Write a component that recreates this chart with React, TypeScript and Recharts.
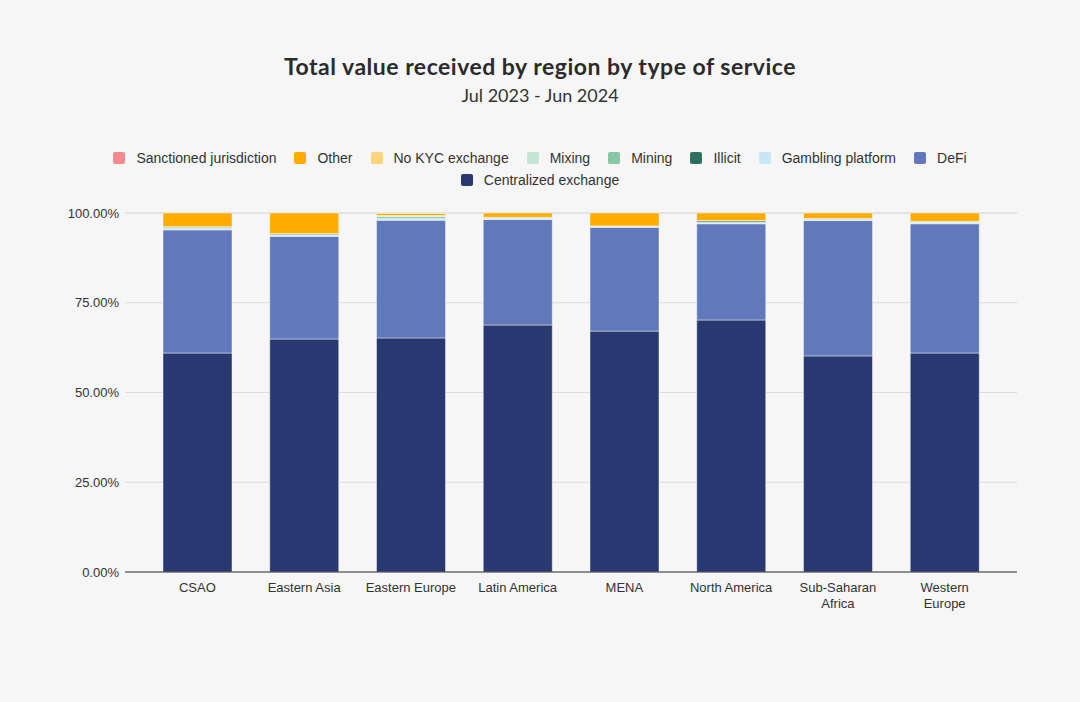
import React from "react";
import { BarChart, Bar, XAxis, YAxis, CartesianGrid } from "recharts";

const categories = ["CSAO", "Eastern Asia", "Eastern Europe", "Latin America", "MENA", "North America", "Sub-Saharan Africa", "Western Europe"];
const tickLabels = [["CSAO"], ["Eastern Asia"], ["Eastern Europe"], ["Latin America"], ["MENA"], ["North America"], ["Sub-Saharan", "Africa"], ["Western", "Europe"]];

const centralizedExchange = [61.0, 64.9, 65.2, 68.8, 67.1, 70.2, 60.2, 61.0];
const defi = [34.3, 28.6, 32.8, 29.4, 28.9, 26.8, 37.7, 36.0];
const gamblingPlatform = [0.6, 0.4, 0.5, 0.4, 0.3, 0.4, 0.5, 0.4];
const illicit = [0, 0, 0, 0, 0, 0.4, 0, 0];
const mining = [0.3, 0.4, 0.5, 0.2, 0.1, 0.1, 0.1, 0.3];
const mixing = [0, 0, 0.3, 0, 0, 0, 0, 0];
const noKycExchange = [0, 0, 0, 0, 0, 0, 0, 0];
const other = [3.8, 5.7, 0.6, 1.2, 3.6, 2.1, 1.5, 2.3];
const sanctionedJurisdiction = [0, 0, 0.1, 0, 0, 0, 0, 0];

const yTicks = [0, 25, 50, 75, 100];

const series = [
  { key: "cex", name: "Centralized exchange", color: "#283870", values: centralizedExchange },
  { key: "defi", name: "DeFi", color: "#6178ba", values: defi },
  { key: "gambling", name: "Gambling platform", color: "#c9e6f7", values: gamblingPlatform },
  { key: "illicit", name: "Illicit", color: "#2f7160", values: illicit },
  { key: "mining", name: "Mining", color: "#86c7a5", values: mining },
  { key: "mixing", name: "Mixing", color: "#c4e4d4", values: mixing },
  { key: "nokyc", name: "No KYC exchange", color: "#ffd37a", values: noKycExchange },
  { key: "other", name: "Other", color: "#ffab00", values: other },
  { key: "sanctioned", name: "Sanctioned jurisdiction", color: "#f28b8f", values: sanctionedJurisdiction },
];

const data = categories.map((c, i) => {
  const row: any = { region: c, idx: i };
  series.forEach((s) => (row[s.key] = s.values[i]));
  return row;
});

const legendOrder = [...series].reverse();

const LegendBlock = () => (
  <div
    style={{
      position: "absolute",
      top: 150,
      left: 100,
      display: "flex",
      flexWrap: "wrap",
      justifyContent: "center",
      width: 880,
      rowGap: 6,
      fontFamily: "'Liberation Sans', Arial, sans-serif",
      fontSize: 14,
      color: "#333",
    }}
  >
    {legendOrder.map((s) => (
      <div key={s.key} style={{ display: "flex", alignItems: "center", margin: "0 9px", height: 16 }}>
        <div style={{ width: 12, height: 12, background: s.color, borderRadius: 2, marginRight: 11 }} />
        <span>{s.name}</span>
      </div>
    ))}
  </div>
);

const XTick = (props: any) => {
  const { x, y, payload } = props;
  const lines = tickLabels[payload.index] || [payload.value];
  return (
    <g transform={`translate(${x},${y})`}>
      <text textAnchor="middle" fill="#333" fontSize={13} fontFamily="'Liberation Sans', Arial, sans-serif">
        {lines.map((l: string, i: number) => (
          <tspan key={i} x={0} dy={i === 0 ? 12 : 16}>
            {l}
          </tspan>
        ))}
      </text>
    </g>
  );
};

export default function App() {
  return (
    <div style={{ position: "absolute", left: 0, top: 0, width: 1080, height: 702, background: "#f6f6f6" }}>
      <div
        style={{
          position: "absolute",
          top: 52,
          width: 1080,
          textAlign: "center",
          fontFamily: "Lato, sans-serif",
          fontWeight: 700,
          fontSize: 23,
          letterSpacing: 0.5,
          color: "#2b2b2b",
        }}
      >
        Total value received by region by type of service
      </div>
      <div
        style={{
          position: "absolute",
          top: 84,
          width: 1080,
          textAlign: "center",
          fontFamily: "Lato, sans-serif",
          fontSize: 18,
          color: "#333",
        }}
      >
        Jul 2023 - Jun 2024
      </div>
      <LegendBlock />
      <div style={{ position: "absolute", left: 0, top: 0 }}>
        <BarChart
          width={1080}
          height={702}
          data={data}
          margin={{ top: 213, right: 63, bottom: 100, left: 5 }}
          barSize={69}
        >
          <CartesianGrid vertical={false} stroke="#dcdcdc" />
          <XAxis
            dataKey="region"
            interval={0}
            tick={<XTick />}
            tickLine={false}
            axisLine={{ stroke: "#333" }}
            height={30}
            padding={{ left: 19, right: 19 }}
          />
          <YAxis
            domain={[0, 100]}
            ticks={yTicks}
            tickFormatter={(v: number) => `${v.toFixed(2)}%`}
            axisLine={false}
            tickLine={false}
            width={120}
            tickMargin={0}
            tick={{ fill: "#333", fontSize: 13, fontFamily: "'Liberation Sans', Arial, sans-serif" }}
          />
          {series.map((s) => (
            <Bar
              key={s.key}
              dataKey={s.key}
              name={s.name}
              stackId="a"
              fill={s.color}
              stroke="rgba(255,255,255,0.45)"
              strokeWidth={1}
              isAnimationActive={false}
            />
          ))}
        </BarChart>
      </div>
    </div>
  );
}
